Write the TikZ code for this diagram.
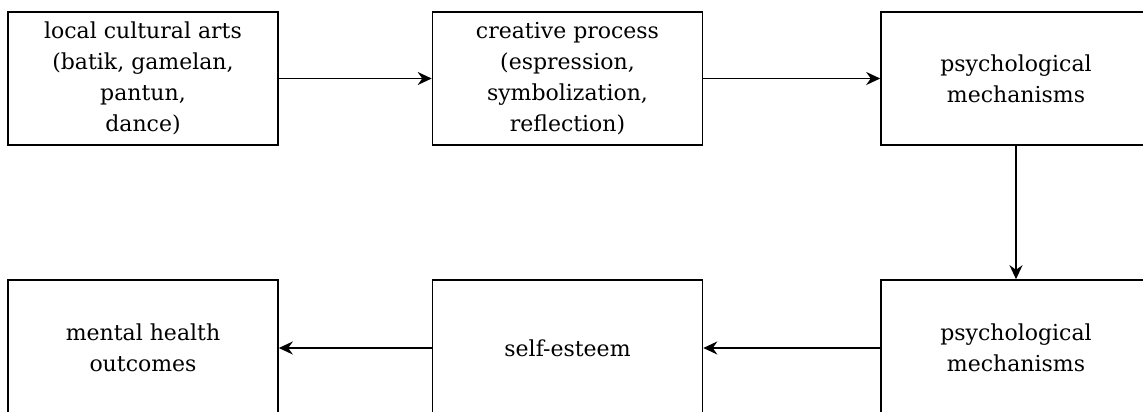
\documentclass[tikz,border=0pt]{standalone}
\usepackage{fontspec}
\setmainfont{DejaVu Serif}
\usetikzlibrary{arrows.meta}

\tikzset{
	caja/.style={draw, line width=1.6pt, minimum width=270pt, align=center, inner sep=2pt,
		font=\fontsize{22}{31}\selectfont},
	flecha/.style={-{Stealth[length=14pt, width=13pt]}, line width=1.6pt}
}

\begin{document}
\begin{tikzpicture}[x=1pt, y=-1pt]
	\useasboundingbox (0,0) rectangle (1143,412);
	% Fila superior
		\node[caja, minimum height=133pt] (artes) at (143,78.5) {local cultural arts\\(batik, gamelan,\\pantun,\\dance)};
		\node[caja, minimum height=133pt] (proceso) at (567.5,78.5) {creative process\\(espression,\\symbolization,\\reflection)};
		\node[caja, minimum height=133pt] (mecanismos) at (1016,78.5) {psychological\\mechanisms};
	% Fila inferior
		\node[caja, minimum height=136pt] (mecanismosB) at (1016,348) {psychological\\mechanisms};
		\node[caja, minimum height=136pt] (autoestima) at (567.5,348) {self-esteem};
		\node[caja, minimum height=136pt] (salud) at (143,348) {mental health\\outcomes};
	% Flechas
		\draw[flecha] (artes) -- (proceso);
		\draw[flecha] (proceso) -- (mecanismos);
		\draw[flecha] (mecanismos) -- (mecanismosB);
		\draw[flecha] (mecanismosB) -- (autoestima);
		\draw[flecha] (autoestima) -- (salud);
\end{tikzpicture}
\end{document}
